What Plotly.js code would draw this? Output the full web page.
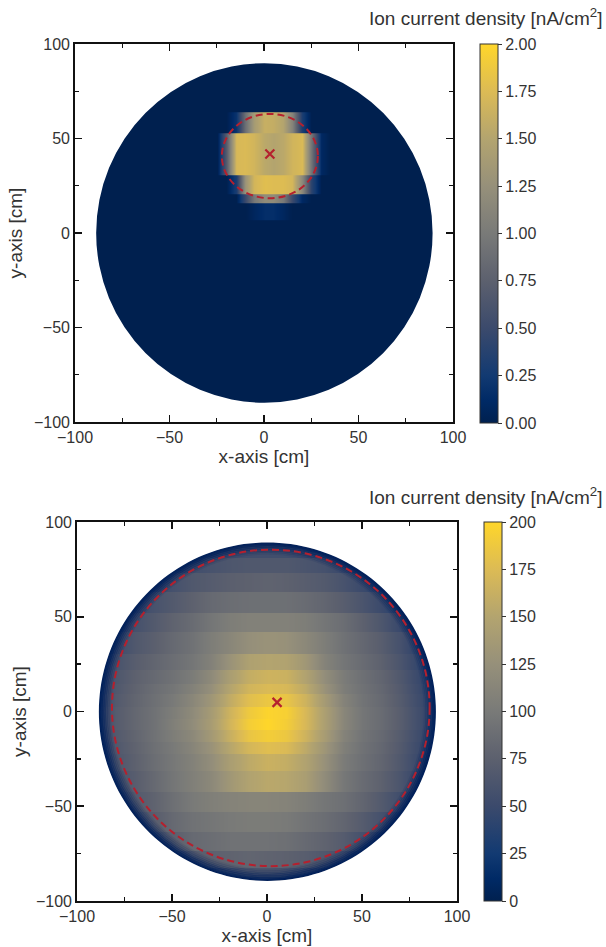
<!DOCTYPE html>
<html>
<head>
<meta charset="utf-8">
<script src="https://cdn.plot.ly/plotly-3.0.1.min.js"></script>
<style>html,body{margin:0;padding:0;background:#fff}#chart{width:606px;height:947px}</style>
</head>
<body>
<div id="chart"></div>
<script>
// ---------- Top map (nA/cm2) ----------
var topX = [-35,-30,-25,-20,-15,-10,-5,0,5,10,15,20,25,30,35];
var topBandEdges = [63.7,52.8,30.7,21,15.7,6.9];
var topBands = [
 [0,0,0,0,0.2,0.9,1.4,1.62,1.6,1.5,1.1,0.3,0,0,0],
 [0,0,0,0.7,1.72,1.74,1.68,1.55,1.5,1.55,1.68,1.74,0.95,0.1,0],
 [0,0,0,0,0.3,1.3,1.7,1.78,1.76,1.76,1.7,1.15,0.4,0,0],
 [0,0,0,0,0,0.5,1.0,1.2,1.2,1.0,0.5,0.1,0,0,0],
 [0,0,0,0,0,0,0.08,0.15,0.15,0.08,0,0,0,0,0]
];
var topMarker = {x:[3.1], y:[41.8]};
var topDash = {x0:-22.3, x1:28.5, y0:18.4, y1:63};
var topDisk = {cx:0.2, cy:0, rx:89, ry:89.8};
var topTicks = [0,0.25,0.5,0.75,1,1.25,1.5,1.75,2];

// ---------- Bottom map (nA/cm2) ----------
var botX = [-90,-80,-70,-60,-50,-40,-30,-20,-10,0,10,20,30,40,50,60,70,80,90];
var botBandEdges = [90,81.5,73.6,63.6,52.6,42,30.6,21.8,14.8,9.6,2.6,-3.6,-9.7,-15.9,-22,-30.8,-42.2,-53,-63.6,-73.7,-82.5,-90];
var botBands = [
 [10,12,15,20,30,42,50,54,55,55,54,50,44,32,22,15,12,10,10],
 [10,15,22,32,44,54,60,64,66,66,66,62,58,48,36,24,16,12,10],
 [12,22,36,48,58,66,70,74,76,78,76,72,68,60,50,38,24,15,12],
 [14,32,48,60,68,76,84,88,90,90,90,86,80,72,62,50,34,20,12],
 [18,42,58,68,78,86,96,104,108,108,108,104,96,88,76,64,48,28,15],
 [22,52,66,74,84,92,104,114,124,128,126,116,104,92,82,72,58,38,18],
 [28,60,72,80,88,96,108,128,146,150,148,134,110,96,86,76,62,44,22],
 [32,64,76,84,92,102,118,142,160,166,164,148,122,102,90,80,66,48,25],
 [35,66,78,88,96,108,124,150,168,174,172,156,128,104,92,82,68,50,28],
 [38,68,80,90,100,114,132,158,178,186,184,166,138,110,94,84,70,52,30],
 [40,70,82,92,104,118,138,166,188,198,194,172,144,114,96,86,72,54,32],
 [40,70,82,92,106,120,140,168,192,200,192,172,144,114,96,86,72,54,32],
 [38,68,80,92,104,116,136,162,184,192,186,166,140,110,94,84,70,52,30],
 [35,66,78,90,100,112,128,152,170,178,174,156,132,106,92,82,68,50,28],
 [32,64,76,88,98,108,122,142,156,164,160,148,126,102,90,80,66,48,25],
 [28,60,72,84,96,106,116,134,148,154,152,142,120,98,86,76,62,44,22],
 [24,54,68,78,90,100,106,110,112,112,110,104,96,90,80,68,54,36,20],
 [18,46,60,72,84,92,96,100,102,102,100,94,88,80,70,58,42,26,15],
 [14,32,50,64,74,84,88,92,92,92,90,84,78,70,58,46,30,18,12],
 [12,20,36,52,62,70,76,78,80,78,76,72,66,58,46,32,20,12,12],
 [10,12,18,28,42,52,60,64,66,66,64,58,52,42,30,20,14,10,10]
];
var botMarker = {x:[5.3], y:[4.8]};
var botDash = {x0:-81.6, x1:85.6, y0:-81.6, y1:85.4};
var botDisk = {cx:0.2, cy:-0.1, rx:88.7, ry:89.3};
var botTicks = [0,25,50,75,100,125,150,175,200];

// rim shading of the bottom disk: radius fraction, opacity
var rimRadii = [0.995,0.985,0.975,0.965,0.955,0.945,0.935];
var rimAlpha = [0.95,0.8,0.6,0.45,0.3,0.2,0.1];

var ticks50 = [-100,-50,0,50,100];

var cividisLike = [
 [0,'#00204f'],[0.06,'#002a66'],[0.125,'#123a72'],[0.25,'#3b4a6c'],
 [0.375,'#5c606e'],[0.5,'#797a78'],[0.625,'#96907a'],[0.75,'#b3a46f'],
 [0.875,'#dcbb55'],[1,'#ffd62a']
];

var RED = '#b5202e', TXT = '#333333', FONT = 'Liberation Sans, Arial, sans-serif';

// Rows are constant inside each band: one row per 0.5 cm keeps band borders sharp.
function expand(rowsIn, edges){
  var y = [], z = [];
  var lo = edges[edges.length-1], hi = edges[0];
  for (var v = lo + 0.25; v < hi; v += 0.5) {
    for (var i = 0; i < rowsIn.length; i++) {
      if (v <= edges[i] && v > edges[i+1]) { y.push(v); z.push(rowsIn[i]); break; }
    }
  }
  return {y:y, z:z};
}
function maskPath(d){
  var s = 'M -96 -96 L 96 -96 L 96 96 L -96 96 Z ';
  for (var a = 0; a < 360; a += 2) {
    var t = a*Math.PI/180;
    s += (a ? 'L ' : 'M ') + (d.cx + d.rx*Math.cos(t)).toFixed(2) + ' ' + (d.cy + d.ry*Math.sin(t)).toFixed(2) + ' ';
  }
  return s + 'Z';
}

var W = 606, H = 947;
function xdom(a,b){ return [a/W, b/W]; }
function ydom(top,bot){ return [1-bot/H, 1-top/H]; }

function axis(dom, anchor, title, standoff){
  return {
    domain: dom, anchor: anchor, range: [-100,100], tickmode:'array', tickvals: ticks50,
    ticks:'inside', ticklen:7, tickwidth:1.6, tickcolor:'#111', showline:true, linecolor:'#111', linewidth:1.8,
    mirror:'allticks', showgrid:false, zeroline:false,
    minor:{tickmode:'array', tickvals:[-75,-25,25,75], ticks:'inside', ticklen:4, tickwidth:1.4, tickcolor:'#111', showgrid:false},
    tickfont:{family:FONT,size:16,color:TXT},
    title:{text:title, font:{family:FONT,size:19,color:TXT}, standoff:standoff},
    layer:'above traces'
  };
}
function cbar(top, left, vals, fmt){
  return {
    x:left/W, xanchor:'left', xref:'paper', y:1-top/H, yanchor:'top', yref:'paper',
    lenmode:'pixels', len:379, thicknessmode:'pixels', thickness:18,
    tickmode:'array', tickvals:vals, tickformat:fmt, ticks:'outside', ticklen:4, tickwidth:1, tickcolor:'#333',
    outlinewidth:1, outlinecolor:'#333', borderwidth:0, xpad:0, ypad:0,
    tickfont:{family:FONT,size:16,color:TXT}
  };
}

var t = expand(topBands, topBandEdges);
var b = expand(botBands, botBandEdges);

var data = [
 {type:'heatmap', x:topX, y:t.y, z:t.z, zmin:0, zmax:2, zsmooth:'best', colorscale:cividisLike, xaxis:'x', yaxis:'y', colorbar:cbar(44,480,topTicks,'.2f'), hoverinfo:'skip'},
 {type:'heatmap', x:botX, y:b.y, z:b.z, zmin:0, zmax:200, zsmooth:'best', colorscale:cividisLike, xaxis:'x2', yaxis:'y2', colorbar:cbar(522,484,botTicks,'d'), hoverinfo:'skip'},
 {type:'scatter', mode:'markers', x:topMarker.x, y:topMarker.y, xaxis:'x', yaxis:'y', marker:{symbol:'x-thin', size:9, line:{color:RED,width:2.2}}, showlegend:false, hoverinfo:'skip'},
 {type:'scatter', mode:'markers', x:botMarker.x, y:botMarker.y, xaxis:'x2', yaxis:'y2', marker:{symbol:'x-thin', size:9, line:{color:RED,width:2.2}}, showlegend:false, hoverinfo:'skip'}
];

var shapes = [];
// dark base disk of the top map, under the heatmap
shapes.push({type:'circle', xref:'x', yref:'y', x0:topDisk.cx-topDisk.rx, x1:topDisk.cx+topDisk.rx, y0:topDisk.cy-topDisk.ry, y1:topDisk.cy+topDisk.ry, fillcolor:'#00204f', line:{width:0}, layer:'below'});
rimRadii.slice().reverse().forEach(function(f, i){
  var al = rimAlpha[rimAlpha.length-1-i];
  shapes.push({type:'circle', xref:'x2', yref:'y2',
    x0:botDisk.cx-botDisk.rx*f, x1:botDisk.cx+botDisk.rx*f, y0:botDisk.cy-botDisk.ry*f, y1:botDisk.cy+botDisk.ry*f,
    line:{color:'rgba(0,32,90,'+al+')', width:2.2}, layer:'above'});
});
shapes.push({type:'path', xref:'x2', yref:'y2', path:maskPath(botDisk), fillcolor:'#fff', fillrule:'evenodd', line:{width:0}, layer:'above'});
shapes.push({type:'circle', xref:'x', yref:'y', x0:topDash.x0, x1:topDash.x1, y0:topDash.y0, y1:topDash.y1, line:{color:RED, width:2, dash:'7px,4px'}, layer:'above'});
shapes.push({type:'circle', xref:'x2', yref:'y2', x0:botDash.x0, x1:botDash.x1, y0:botDash.y0, y1:botDash.y1, line:{color:RED, width:2, dash:'7px,4px'}, layer:'above'});

var layout = {
  width:W, height:H, margin:{l:0,r:0,t:0,b:0}, paper_bgcolor:'#fff', plot_bgcolor:'#fff', showlegend:false,
  font:{family:FONT,color:TXT},
  xaxis: axis(xdom(75,453),'y','x-axis [cm]',2),
  yaxis: axis(ydom(44,422),'x','y-axis [cm]',6),
  xaxis2: axis(xdom(77,457),'y2','x-axis [cm]',2),
  yaxis2: axis(ydom(522,901),'x2','y-axis [cm]',4),
  shapes: shapes,
  annotations:[
   {xref:'paper',yref:'paper',x:604/W,y:1-17/H,xanchor:'right',yanchor:'middle',showarrow:false,text:'Ion current density [nA/cm<sup>2</sup>]',font:{family:FONT,size:19,color:TXT}},
   {xref:'paper',yref:'paper',x:604/W,y:1-496/H,xanchor:'right',yanchor:'middle',showarrow:false,text:'Ion current density [nA/cm<sup>2</sup>]',font:{family:FONT,size:19,color:TXT}}
  ]
};
Plotly.newPlot('chart', data, layout, {staticPlot:true, displayModeBar:false});
</script>
</body>
</html>
